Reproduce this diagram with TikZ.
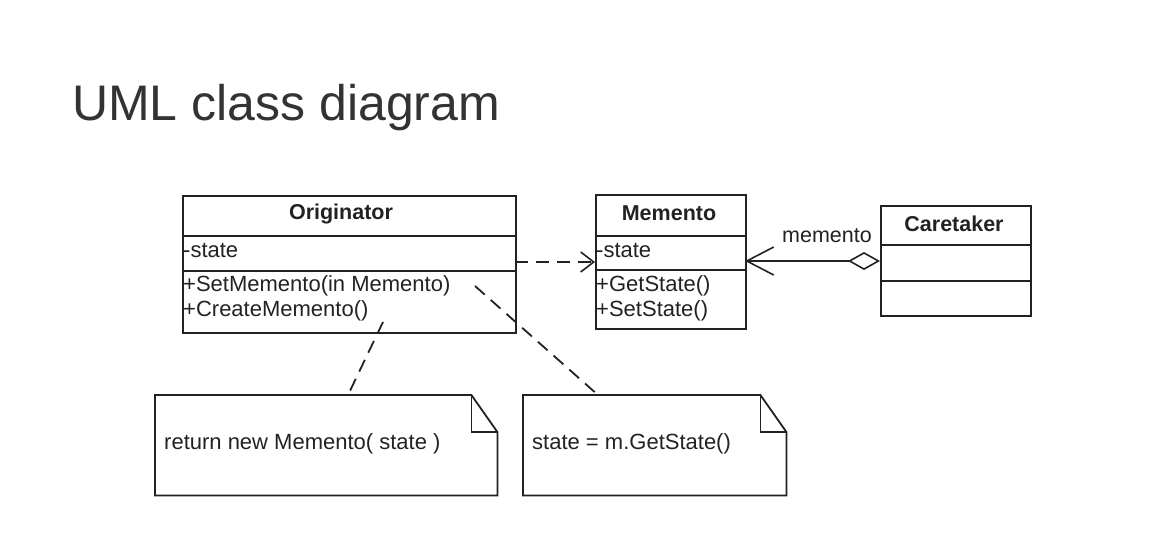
\documentclass[tikz,border=0pt]{standalone}
\usepackage{fontspec}
\setmainfont{Liberation Sans}
\usetikzlibrary{arrows.meta}
\definecolor{ink}{HTML}{222222}
\definecolor{titleink}{HTML}{333333}
\begin{document}
\begin{tikzpicture}[x=1pt,y=-1pt,
  box/.style={draw=ink,line width=1.8pt,anchor=north west,inner sep=0pt},
  txt/.style={anchor=west,inner sep=0pt,font=\fontsize{22}{25}\selectfont,text=ink},
  ttl/.style={inner sep=0pt,font=\fontsize{21.5}{24}\selectfont\bfseries,text=ink},
  sep/.style={draw=ink,line width=1.8pt},
  dsh/.style={draw=ink,line width=1.8pt,dash pattern=on 13pt off 8pt},
  notearea/.style={anchor=north west,inner sep=0pt},
  notebox/.style={draw=ink,line width=1.8pt,line join=miter}
]
\useasboundingbox (0,0) rectangle (1172,546);
% title
\node[anchor=base west,inner sep=0pt,font=\fontsize{50}{56}\selectfont,text=titleink] (title) at (72,120) {UML class diagram};

% Originator
\node[box,minimum width=333pt,minimum height=137pt] (orig) at (182,195) {};
\draw[sep] (182,236) -- (515,236);
\draw[sep] (182,271) -- (515,271);
\node[ttl] (origname) at (341,214) {Originator};
\node[txt] (origattr) at (183,250) {-state};
\node[txt] (origop1) at (183,286) {+SetMemento(in Memento)};
\node[txt] (origop2) at (183,311) {+CreateMemento()};

% Memento
\node[box,minimum width=150pt,minimum height=134pt] (mem) at (595,194) {};
\draw[sep] (595,236) -- (745,236);
\draw[sep] (595,270) -- (745,270);
\node[ttl] (memname) at (669,213) {Memento};
\node[txt] (memattr) at (596,250) {-state};
\node[txt] (memop1) at (596,286) {+GetState()};
\node[txt] (memop2) at (596,311) {+SetState()};

% Caretaker
\node[box,minimum width=150pt,minimum height=110pt] (care) at (880,205) {};
\draw[sep] (880,245) -- (1030,245);
\draw[sep] (880,281) -- (1030,281);
\node[ttl] (carename) at (954,224) {Caretaker};

% connection points
\coordinate (oright) at (515,262);
\coordinate (mleft) at (595,262);
\coordinate (mright) at (745,261);
\coordinate (cleft) at (880,261);

% dependency
\draw[dsh,-{Straight Barb[length=13pt,width=20pt,line width=1.6pt]}] (oright) -- (mleft);
% aggregation
\draw[draw=ink,line width=1.8pt,{Straight Barb[length=27pt,width=28pt,line width=1.6pt]}-{Diamond[open,length=32pt,width=18pt,line width=1.6pt]}] (mright) -- (cleft);
\node[anchor=base,inner sep=0pt,font=\fontsize{21.5}{24}\selectfont,text=ink] (rolelbl) at (827,242) {memento};

% notes
\node[notearea,minimum width=342pt,minimum height=100pt] (note1) at (155,395) {};
\draw[notebox] (note1.south west) -- (note1.north west) -- ([xshift=-26pt]note1.north east) -- ([yshift=-37pt]note1.north east) -- (note1.south east) -- cycle;
\draw[notebox] ([xshift=-26pt]note1.north east) -- ([xshift=-26pt,yshift=-37pt]note1.north east) -- ([yshift=-37pt]note1.north east);
\node[txt] (note1txt) at (164,444) {return new Memento( state )};

\node[notearea,minimum width=263pt,minimum height=100pt] (note2) at (523,395) {};
\draw[notebox] (note2.south west) -- (note2.north west) -- ([xshift=-26pt]note2.north east) -- ([yshift=-37pt]note2.north east) -- (note2.south east) -- cycle;
\draw[notebox] ([xshift=-26pt]note2.north east) -- ([xshift=-26pt,yshift=-37pt]note2.north east) -- ([yshift=-37pt]note2.north east);
\node[txt] (note2txt) at (532,444) {state = m.GetState()};

% note links
\coordinate (n1a) at (383,322);
\coordinate (n1b) at (348,395);
\coordinate (n2a) at (475,286);
\coordinate (n2b) at (598,395);
\draw[dsh] (n1a) -- (n1b);
\draw[dsh] (n2a) -- (n2b);
\end{tikzpicture}
\end{document}
